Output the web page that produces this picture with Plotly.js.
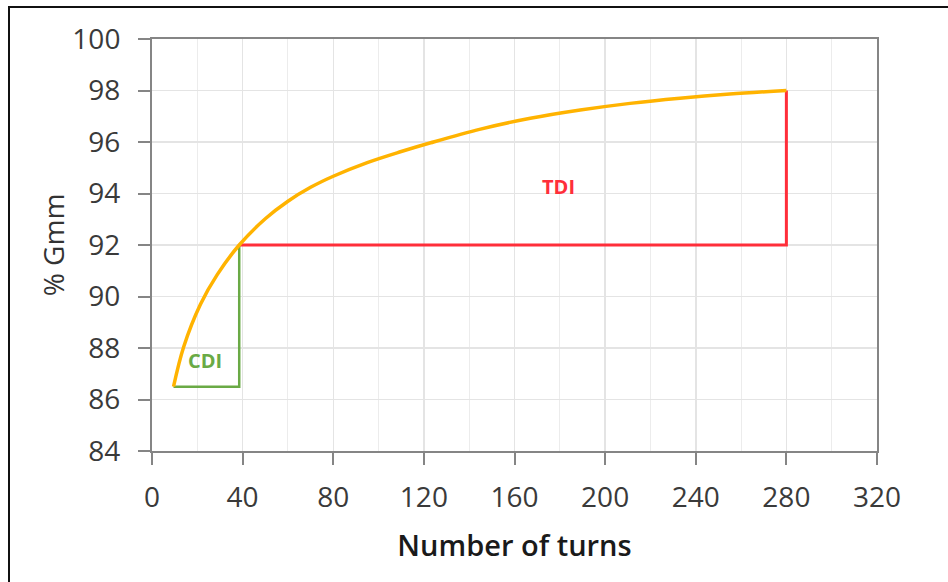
<!DOCTYPE html>
<html>
<head>
<meta charset="utf-8">
<script src="https://cdn.plot.ly/plotly-3.0.1.min.js"></script>
<style>
  html, body { margin: 0; padding: 0; background: #fff; }
  #wrap { position: relative; width: 948px; height: 582px; }
  #chart { position: absolute; left: 0; top: 0; width: 948px; height: 582px; }
  #frame { position: absolute; left: 8px; top: 6px; width: 945px; height: 580px;
           border-left: 2px solid #111; border-top: 2px solid #111; pointer-events: none; }
</style>
</head>
<body>
<div id="wrap">
  <div id="chart"></div>
  <div id="frame"></div>
</div>
<script>
// Compaction curve (% Gmm vs number of gyratory turns)
const turns = [9.5, 14, 21.4, 28.8, 38.5, 50, 60, 70, 80, 95, 110, 123, 145, 167, 189, 211, 233, 255, 280];
const gmm   = [86.5, 88.05, 89.7, 90.85, 92, 93.02, 93.7, 94.24, 94.67, 95.2, 95.63, 95.97, 96.5, 96.92, 97.24, 97.5, 97.7, 97.86, 98];

// CDI triangle (green) and TDI triangle (red)
const cdiX = [9.5, 38.5, 38.5];
const cdiY = [86.5, 86.5, 92];
const tdiX = [38.5, 280, 280];
const tdiY = [92, 92, 98];

// Labels
const labelText = ["CDI", "TDI"];
const labelX = [23.6, 179.4];
const labelY = [87.53, 94.29];

const xTicks = [0, 40, 80, 120, 160, 200, 240, 280, 320];
const yTicks = [84, 86, 88, 90, 92, 94, 96, 98, 100];

const traces = [
  { x: cdiX, y: cdiY, mode: "lines", line: { color: "#6aaa45", width: 2.5 }, hoverinfo: "skip" },
  { x: tdiX, y: tdiY, mode: "lines", line: { color: "#ff2e3a", width: 3 }, hoverinfo: "skip" },
  { x: turns, y: gmm, mode: "lines", line: { color: "#ffb300", width: 3.5, shape: "spline", smoothing: 1 } }
];

const labelColors = ["#6aaa45", "#ff2e3a"];
const annotations = labelText.map((t, i) => ({
  x: labelX[i], y: labelY[i], xref: "x", yref: "y", text: "<b>" + t + "</b>",
  showarrow: false, font: { family: "Open Sans", size: 20, color: labelColors[i] }
}));

const axisCommon = {
  showline: true, linecolor: "#858585", linewidth: 2, mirror: true,
  ticks: "outside", ticklen: 12, tickwidth: 2, tickcolor: "#858585",
  gridcolor: "#e4e4e4", gridwidth: 1.5, zeroline: false,
  tickfont: { family: "Open Sans", size: 28, color: "#3a3a3a" }
};

const layout = {
  width: 948, height: 582,
  margin: { l: 152, r: 71, t: 39, b: 131 },
  paper_bgcolor: "#fff", plot_bgcolor: "#fff",
  showlegend: false,
  font: { family: "Open Sans" },
  xaxis: Object.assign({}, axisCommon, {
    range: [0, 320], tickvals: xTicks, ticktext: xTicks.map(String),
    minor: { dtick: 20, tick0: 0, showgrid: true, gridcolor: "#ececec", gridwidth: 1, ticks: "" },
    ticklabelstandoff: 8,
    title: { text: "Number of turns", font: { family: "Open Sans", size: 29, color: "#1a1a1a", weight: 600 }, standoff: 22 }
  }),
  yaxis: Object.assign({}, axisCommon, {
    range: [84, 100], tickvals: yTicks, ticktext: yTicks.map(String),
    ticklabelstandoff: 12,
    title: { text: "% Gmm", font: { family: "Open Sans", size: 28, color: "#333" }, standoff: 0 }
  }),
  annotations: annotations
};

Plotly.newPlot("chart", traces, layout, { staticPlot: true, displayModeBar: false });
</script>
</body>
</html>
